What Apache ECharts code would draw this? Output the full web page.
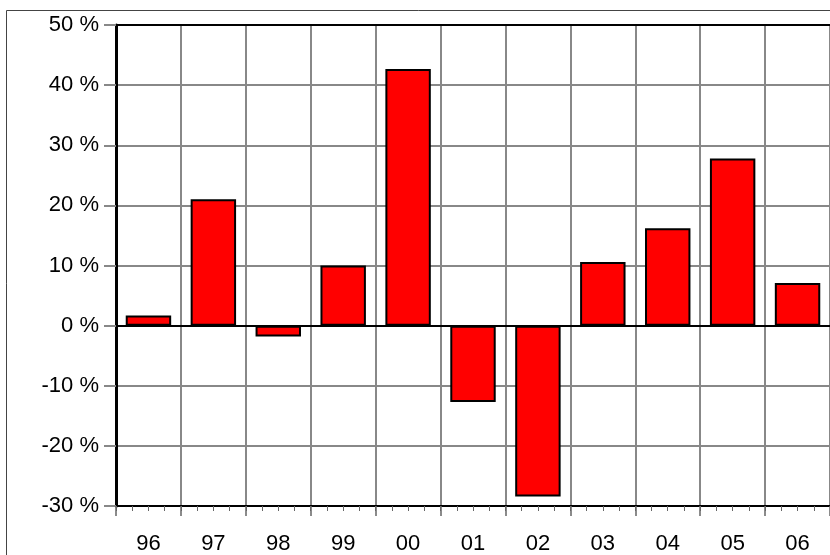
<!DOCTYPE html>
<html>
<head>
<meta charset="utf-8">
<script src="https://cdn.jsdelivr.net/npm/echarts@6/dist/echarts.min.js"></script>
<style>
  html, body { margin: 0; padding: 0; background: #fff; }
  #chart { width: 830px; height: 555px; }
</style>
</head>
<body>
<div id="chart"></div>
<script>
// years on the x axis
var years = ['96', '97', '98', '99', '00', '01', '02', '03', '04', '05', '06'];
// yearly change, in percent
var changes = [1.7, 21.0, -1.8, 10.0, 42.7, -12.7, -28.4, 10.6, 16.2, 27.8, 7.1];
// y axis range
var yMin = -30, yMax = 50, yStep = 10;
// minor ticks per year on the x axis
var minorPerYear = 4;

var chart = echarts.init(document.getElementById('chart'));
var font = 'Liberation Sans, Arial, sans-serif';

// one empty slot for each minor tick step
var minorSlots = [];
for (var i = 0; i < years.length * minorPerYear; i++) minorSlots.push('');

chart.setOption({
  animation: false,
  backgroundColor: '#fff',
  grid: { left: 116, top: 25, width: 720, height: 483 },
  graphic: [
    {
      // outer frame, runs off the right and bottom edges
      type: 'rect', silent: true, z: -1,
      shape: { x: 6.5, y: 10.5, width: 900, height: 700 },
      style: { fill: 'none', stroke: '#444', lineWidth: 1 }
    },
    {
      // heavy top border of the plot
      type: 'line', silent: true, z: 5,
      shape: { x1: 116, y1: 25, x2: 836, y2: 25 },
      style: { stroke: '#000', lineWidth: 2 }
    }
  ],
  xAxis: [
    {
      type: 'category',
      data: years,
      boundaryGap: true,
      axisLine: { show: true, onZero: false, lineStyle: { color: '#000', width: 2 } },
      axisTick: { show: true, interval: 0, length: 10, lineStyle: { color: '#666', width: 1.5 } },
      splitLine: { show: true, interval: 0, lineStyle: { color: '#888', width: 2 } },
      axisLabel: { interval: 0, margin: 27, color: '#000', fontSize: 22, fontFamily: font }
    },
    {
      // only carries the minor ticks under the axis
      type: 'category',
      data: minorSlots,
      boundaryGap: true,
      position: 'bottom',
      axisLine: { show: false, onZero: false },
      axisLabel: { show: false },
      splitLine: { show: false },
      axisTick: { show: true, interval: 0, length: 5, lineStyle: { color: '#666', width: 1 } }
    }
  ],
  yAxis: {
    type: 'value',
    min: yMin, max: yMax, interval: yStep,
    axisLine: { show: true, onZero: false, lineStyle: { color: '#000', width: 3 } },
    axisTick: { show: true, length: 12, lineStyle: { color: '#888', width: 2 } },
    splitLine: { show: true, lineStyle: { color: '#888', width: 2 } },
    axisLabel: {
      margin: 17, color: '#000', fontSize: 22, fontFamily: font,
      formatter: '{value} %'
    }
  },
  series: [
    {
      type: 'bar',
      data: changes,
      barWidth: '70%',
      itemStyle: { color: '#ff0000', borderColor: '#000', borderWidth: 2 }
    },
    {
      // zero line drawn over the bars
      type: 'line',
      data: [],
      markLine: {
        silent: true, symbol: 'none', label: { show: false },
        lineStyle: { color: '#000', width: 2, type: 'solid' },
        data: [{ yAxis: 0 }]
      },
      z: 4
    }
  ]
});
</script>
</body>
</html>
